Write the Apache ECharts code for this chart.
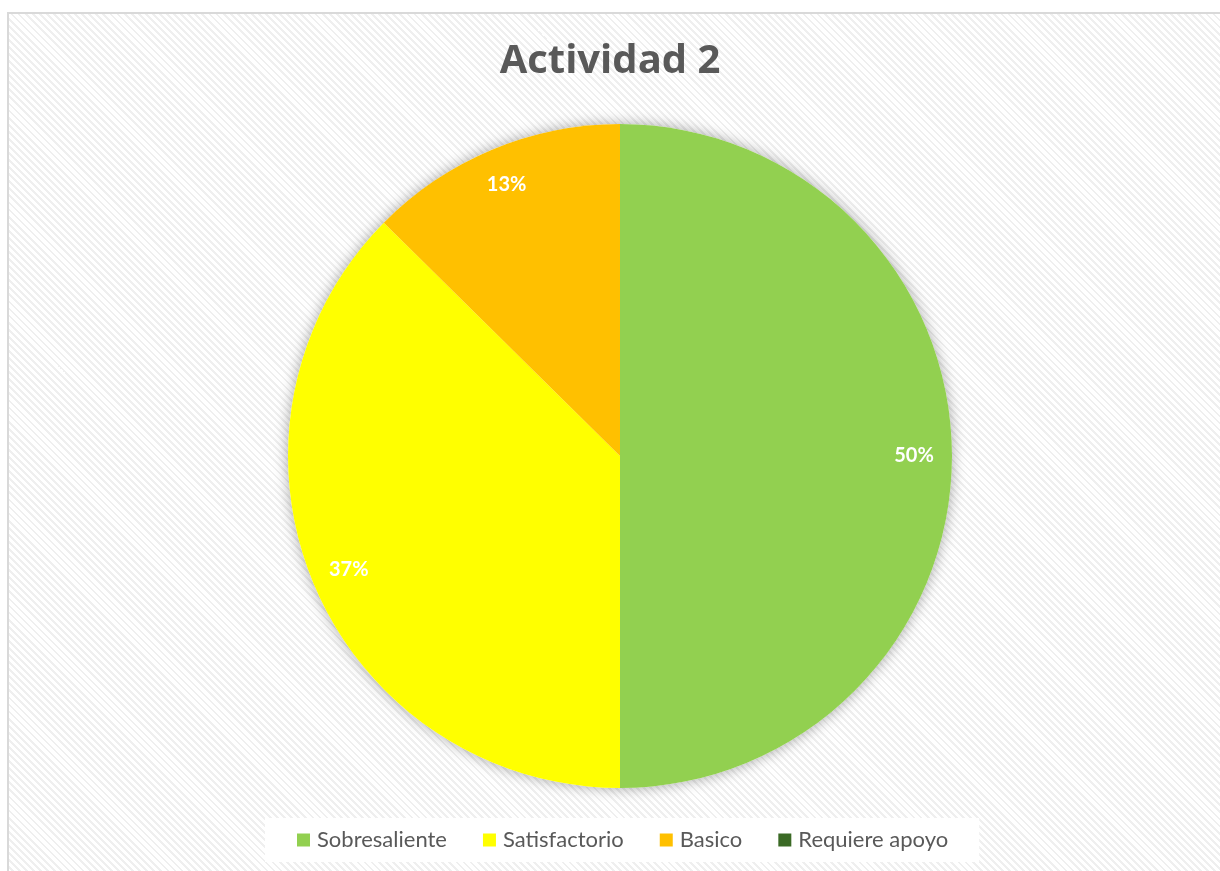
<!DOCTYPE html>
<html>
<head>
<meta charset="utf-8">
<script src="https://cdn.jsdelivr.net/npm/echarts@6/dist/echarts.min.js"></script>
<style>
html,body{margin:0;padding:0;width:1220px;height:871px;overflow:hidden;background:#fff;}
#bg{position:absolute;left:7px;top:12px;width:1240px;height:880px;border:1px solid #d9d9d9;border-width:2px 0 0 2px;
background:repeating-linear-gradient(45deg,#ffffff 0px,#ffffff 3px,#efefef 3px,#efefef 5px);}
#chart{position:absolute;left:0;top:0;width:1220px;height:871px;}
</style>
</head>
<body>
<div id="bg"></div>
<div id="chart"></div>
<script>
const titleText = 'Actividad 2';
const categories = ['Sobresaliente', 'Satisfactorio', 'Basico', 'Requiere apoyo'];
const values = [50, 37.4, 12.6, 0];
const colors = ['#92D050', '#FFFF00', '#FFC000', '#3B6A25'];

const chart = echarts.init(document.getElementById('chart'), null, {renderer: 'canvas'});
const data = categories.map((c, i) => ({name: c, value: values[i], itemStyle: {color: colors[i]}}));
const total = values.reduce((a, b) => a + b, 0);

chart.setOption({
  backgroundColor: 'transparent',
  animation: false,
  title: {
    text: titleText, left: 'center', top: 37,
    textStyle: {fontFamily: 'Open Sans', fontWeight: 'bold', fontSize: 40, color: '#595959'}
  },
  legend: {
    data: categories, left: 265, bottom: 9, orient: 'horizontal',
    icon: 'rect', itemWidth: 13, itemHeight: 13, itemGap: 36,
    padding: [11, 31, 11, 32], backgroundColor: '#ffffff',
    textStyle: {fontFamily: 'Lato', fontSize: 22, color: '#595959', padding: [0, 0, 0, 2]}
  },
  series: [
    {
      type: 'pie', silent: true, center: [620, 456], radius: [0, 332], z: 1,
      label: {show: false}, labelLine: {show: false}, legendHoverLink: false,
      data: [{name: '_shadow', value: 1, itemStyle: {color: '#ffffff', shadowBlur: 14, shadowColor: 'rgba(0,0,0,0.35)'}}],
      tooltip: {show: false}
    },
    {
      type: 'pie', center: [620, 456], radius: [0, 332], z: 2,
      startAngle: 90, clockwise: true, avoidLabelOverlap: false,
      label: {show: false}, labelLine: {show: false},
      itemStyle: {borderWidth: 0},
      data: data
    },
    {
      type: 'pie', silent: true, center: [620, 456], radius: [250, 332], z: 3,
      startAngle: 90, clockwise: true, avoidLabelOverlap: false, legendHoverLink: false,
      itemStyle: {color: 'rgba(0,0,0,0)', borderWidth: 0},
      label: {
        show: true, position: 'inside',
        formatter: p => p.value > 0 ? Math.round(p.value / total * 100) + '%' : '',
        fontFamily: 'Lato', fontWeight: 'bold', fontSize: 20, color: '#ffffff'
      },
      labelLine: {show: false},
      data: categories.map((c, i) => ({name: 'lbl_' + c, value: values[i]}))
    }
  ]
});
</script>
</body>
</html>
